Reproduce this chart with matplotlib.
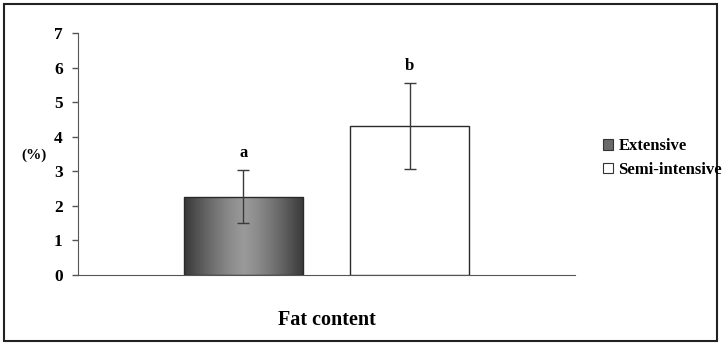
import numpy as np
import matplotlib
matplotlib.use("Agg")
import matplotlib.pyplot as plt
from matplotlib.patches import Rectangle, Patch

# Data
categories = ["Fat content"]
systems = ["Extensive", "Semi-intensive"]
means = [2.27, 4.32]
errors = [0.77, 1.24]
letters = ["a", "b"]
yticks = [0, 1, 2, 3, 4, 5, 6, 7]

plt.rcParams["font.family"] = ["Liberation Serif", "DejaVu Serif"]
plt.rcParams["font.weight"] = "bold"

fig = plt.figure(figsize=(7.22, 3.44), dpi=100)
ax = fig.add_axes([78 / 722, 1 - 275 / 344, 497 / 722, 242 / 344])

width = 0.24
gap = 0.095
offsets = [-(width + gap) / 2, (width + gap) / 2]

for i, (m, e, off) in enumerate(zip(means, errors, offsets)):
    if i == 0:
        b = ax.bar(off, m, width, facecolor="none", edgecolor="#2a2a2a",
                   linewidth=1.0, zorder=3)[0]
        # horizontal shading: dark edges, lighter centre
        xs = np.linspace(-1, 1, 256)
        shade = 0.22 + 0.38 * (1 - np.abs(xs) ** 1.3)
        img = np.tile(shade, (2, 1))
        x0, y0 = b.get_x(), b.get_y()
        im = ax.imshow(img, cmap="gray", vmin=0, vmax=1, aspect="auto",
                       extent=[x0, x0 + b.get_width(), y0, y0 + b.get_height()],
                       zorder=2, interpolation="bilinear")
        im.set_clip_path(b)
    else:
        ax.bar(off, m, width, facecolor="white", edgecolor="#2a2a2a",
               linewidth=1.0, zorder=3)
    ax.errorbar(off, m, yerr=e, fmt="none", ecolor="#3a3a3a", elinewidth=1.0,
                capsize=4.5, capthick=1.0, zorder=4)
    ax.text(off, m + e + 0.25, letters[i], ha="center", va="bottom",
            fontsize=12, fontweight="bold")

ax.set_xlim(-0.5, 0.5)
ax.set_ylim(0, 7)
ax.set_yticks(yticks)
ax.set_yticklabels([str(t) for t in yticks], fontsize=12.5, fontweight="bold")
ax.tick_params(axis="y", direction="out", length=4, width=1, color="#555555", pad=7)
ax.set_xticks([0])
ax.set_xticklabels(categories, fontsize=14.5, fontweight="bold")
ax.tick_params(axis="x", length=0, pad=25)

for s in ["top", "right"]:
    ax.spines[s].set_visible(False)
ax.spines["left"].set_color("#555555")
ax.spines["bottom"].set_color("#555555")

fig.text(21 / 722, 1 - 155 / 344, "(%)", fontsize=11, fontweight="bold",
         ha="left", va="center")

handles = [Patch(facecolor="#6a6a6a", edgecolor="#333333", linewidth=0.8),
           Patch(facecolor="white", edgecolor="#333333", linewidth=0.8)]
fig.legend(handles, systems, loc="upper left",
           bbox_to_anchor=(595 / 722, 1 - 130 / 344), frameon=False,
           handlelength=0.6, handleheight=0.6,
           handletextpad=0.3, labelspacing=0.45, borderpad=0,
           prop={"weight": "bold", "size": 12})

# Outer frame of the figure
fig.patches.append(Rectangle((4 / 722, 3 / 344), 713 / 722, 337 / 344,
                             transform=fig.transFigure, fill=False,
                             edgecolor="#222222", linewidth=1.5))

fig.savefig("out.png", dpi=100)
